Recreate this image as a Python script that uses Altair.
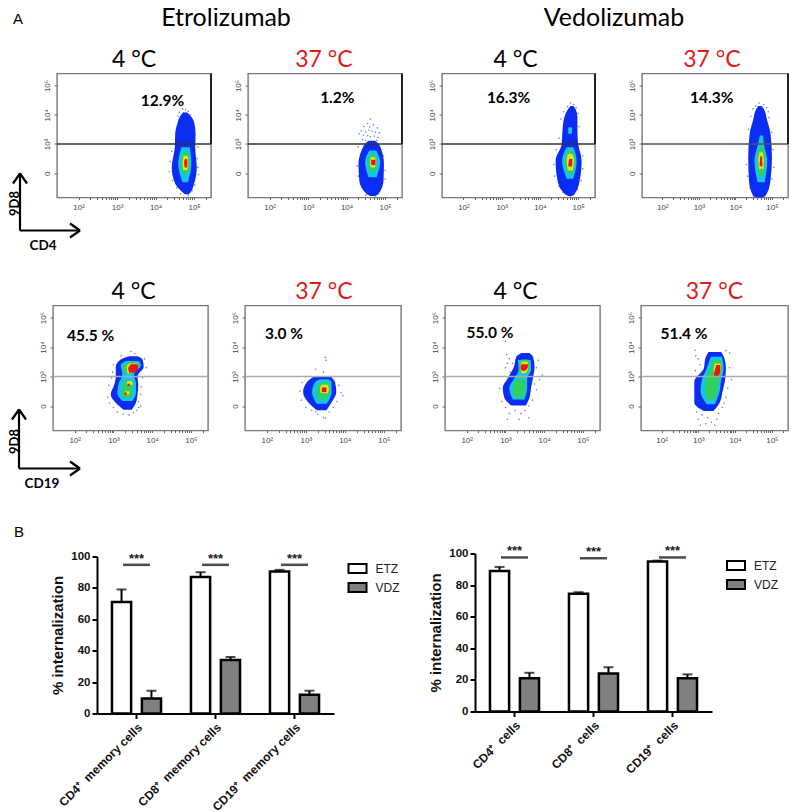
import altair as alt
import pandas as pd

BLUE, CYAN, GREEN, YELLOW, RED = "#0b2cf2", "#18c4e8", "#2fd15c", "#e4e61c", "#e8161a"
LEVELS = [BLUE, CYAN, GREEN, YELLOW, RED]
SERIF = "Liberation Sans"
CAL = "Lato"

# flow-cytometry density contours: level -> list of blobs -> rows of (y, x-left, x-right), in decades
T1 = {
 BLUE: [[(1.28,4.76,4.86),(1.35,4.70,4.91),(1.64,4.51,5.0),(2.2,4.42,5.07),(2.89,4.50,5.03),(3.35,4.51,5.04),(3.75,4.58,5.0),(3.97,4.65,4.90),(4.08,4.72,4.82)]],
 CYAN: [[(1.69,4.70,4.84),(2.32,4.59,4.93),(2.89,4.67,4.89)]],
 GREEN: [[(1.98,4.70,4.84),(2.34,4.65,4.89),(2.72,4.70,4.84)]],
 YELLOW: [[(2.11,4.72,4.83),(2.34,4.70,4.85),(2.6,4.73,4.83)]],
 RED: [[(2.2,4.76,4.82),(2.35,4.74,4.83),(2.49,4.76,4.82)]],
}
T2 = {
 BLUE: [[(1.22,4.62,4.74),(1.29,4.52,4.83),(1.75,4.33,4.96),(2.32,4.31,4.97),(2.78,4.39,4.91),(3.0,4.48,4.83),(3.11,4.57,4.74)]],
 CYAN: [[(1.86,4.57,4.78),(2.38,4.48,4.87),(2.78,4.59,4.77)]],
 GREEN: [[(2.03,4.61,4.74),(2.38,4.57,4.77),(2.66,4.61,4.74)]],
 YELLOW: [[(2.2,4.63,4.74),(2.38,4.61,4.76),(2.55,4.63,4.74)]],
 RED: [[(2.28,4.64,4.75),(2.46,4.64,4.75)]],
}
T3 = {
 BLUE: [[(1.22,4.74,4.84),(1.29,4.65,4.91),(1.75,4.46,5.04),(2.43,4.41,5.09),(3.0,4.57,5.0),(3.46,4.59,4.98),(3.92,4.64,4.98),(4.2,4.74,4.93),(4.3,4.8,4.88)]],
 CYAN: [[(1.81,4.70,4.87),(2.43,4.58,4.96),(2.89,4.70,4.87)],[(3.35,4.74,4.84),(3.57,4.74,4.84)]],
 GREEN: [[(1.98,4.72,4.87),(2.43,4.65,4.91),(2.78,4.73,4.85)]],
 YELLOW: [[(2.09,4.73,4.86),(2.43,4.70,4.89),(2.66,4.73,4.85)]],
 RED: [[(2.23,4.74,4.84),(2.49,4.76,4.85)]],
}
T4 = {
 BLUE: [[(1.17,4.58,4.74),(1.24,4.48,4.83),(1.75,4.37,4.96),(2.55,4.35,5.0),(3.35,4.39,4.96),(3.8,4.48,4.87),(4.2,4.57,4.78),(4.3,4.62,4.72)]],
 CYAN: [[(1.69,4.61,4.80),(2.43,4.52,4.87),(3.0,4.62,4.78),(3.29,4.67,4.76)]],
 GREEN: [[(1.92,4.63,4.78),(2.43,4.59,4.81),(2.89,4.64,4.76)]],
 YELLOW: [[(2.15,4.64,4.77),(2.43,4.63,4.78),(2.72,4.66,4.74)]],
 RED: [[(2.24,4.66,4.74),(2.58,4.68,4.73)]],
}
B1 = {
 BLUE: [[(1.87,3.26,3.47),(2.11,3.06,3.58),(2.39,2.93,3.62),(2.72,3.02,3.64),(3.0,3.06,3.62),(3.33,3.06,3.78),(3.58,3.19,3.75),(3.69,3.41,3.62)]],
 CYAN: [[(2.17,3.23,3.49),(2.44,3.10,3.58),(2.78,3.14,3.58),(3.06,3.23,3.53),(3.39,3.19,3.71),(3.53,3.32,3.66)]],
 GREEN: [[(2.28,3.23,3.45),(2.56,3.23,3.49),(2.83,3.26,3.52)],[(3.11,3.27,3.49),(3.33,3.23,3.64),(3.5,3.41,3.62)]],
 YELLOW: [[(2.39,3.27,3.40),(2.5,3.3,3.42)],[(2.72,3.33,3.5),(2.85,3.36,3.48)],[(3.11,3.36,3.47),(3.33,3.34,3.64),(3.44,3.41,3.62)]],
 RED: [[(3.13,3.41,3.55),(3.28,3.38,3.64),(3.42,3.45,3.62)],[(2.68,3.36,3.42),(2.76,3.36,3.42)],[(2.38,3.28,3.34),(2.46,3.28,3.34)]],
}
B2 = {
 BLUE: [[(1.86,3.28,3.53),(2.13,3.06,3.66),(2.47,2.93,3.78),(2.8,3.02,3.75),(3.02,3.23,3.62)]],
 CYAN: [[(2.08,3.28,3.53),(2.47,3.16,3.66),(2.8,3.23,3.66),(2.91,3.36,3.58)]],
 GREEN: [[(2.24,3.32,3.53),(2.54,3.28,3.62),(2.8,3.36,3.62)]],
 YELLOW: [[(2.43,3.39,3.56),(2.58,3.36,3.59),(2.72,3.41,3.56)]],
 RED: [[(2.47,3.41,3.53),(2.63,3.41,3.53)]],
}
B3 = {
 BLUE: [[(2.02,3.15,3.53),(2.28,2.97,3.62),(2.61,2.93,3.66),(2.94,3.06,3.71),(3.33,3.22,3.75),(3.67,3.28,3.71),(3.8,3.41,3.62)]],
 CYAN: [[(2.22,3.19,3.49),(2.61,3.10,3.56),(2.94,3.23,3.56),(3.22,3.34,3.66),(3.56,3.32,3.65)]],
 GREEN: [[(2.28,3.23,3.47),(2.61,3.19,3.51),(2.91,3.28,3.51)],[(3.11,3.36,3.59),(3.39,3.36,3.62),(3.58,3.42,3.59)]],
 YELLOW: [[(3.11,3.41,3.53),(3.33,3.39,3.59),(3.5,3.42,3.57)]],
 RED: [[(3.2,3.42,3.51),(3.33,3.39,3.58),(3.42,3.42,3.58)]],
}
B4 = {
 BLUE: [[(1.83,3.15,3.41),(2.11,2.89,3.58),(2.5,2.89,3.66),(2.83,2.89,3.72),(3.28,3.15,3.75),(3.61,3.19,3.71),(3.83,3.28,3.62)]],
 CYAN: [[(2.06,3.23,3.45),(2.5,3.06,3.58),(2.89,3.10,3.62),(3.28,3.23,3.69),(3.67,3.34,3.64)]],
 GREEN: [[(2.22,3.23,3.45),(2.61,3.19,3.53),(2.94,3.21,3.58),(3.28,3.32,3.64),(3.56,3.41,3.62)]],
 YELLOW: [[(3.17,3.41,3.6),(3.33,3.43,3.62),(3.44,3.45,3.6)]],
 RED: [[(3.02,3.43,3.55),(3.22,3.45,3.6),(3.39,3.49,3.6)]],
}

# sparse single events around each population: (x, y) in decades
S_T1 = [(4.70,4.2),(4.78,4.18),(4.85,4.12),(4.62,4.08),(4.72,4.06),(4.80,4.04),(4.90,4.0),(4.58,3.95),(4.60,3.82),(4.95,3.75),(4.38,3.0),(4.42,2.75),(5.1,2.9),(5.08,2.5),(4.38,2.4),(5.1,2.2),(4.36,2.05),(5.12,1.95),(4.44,1.75),(5.02,1.6),(4.55,1.5),(4.95,1.4),(4.65,1.3),(4.85,1.25)]
S_T2 = [(4.62,3.85),(4.55,3.7),(4.7,3.66),(4.45,3.6),(4.6,3.58),(4.8,3.55),(4.38,3.45),(4.5,3.42),(4.58,3.47),(4.66,3.44),(4.75,3.4),(4.85,3.38),(4.33,3.35),(4.44,3.3),(4.55,3.28),(4.62,3.25),(4.72,3.27),(4.82,3.22),(4.42,3.15),(4.5,3.12),(4.78,3.12),(4.3,2.9),(4.95,2.6),(4.28,2.25),(5.0,2.1),(4.3,1.9),(5.0,1.8),(4.5,1.25),(4.75,1.22)]
S_T3 = [(4.8,4.4),(4.88,4.35),(4.72,4.28),(4.82,4.27),(4.95,4.25),(4.62,4.1),(5.0,4.05),(4.55,3.85),(5.02,3.6),(4.5,3.2),(5.05,3.0),(4.42,2.8),(5.12,2.6),(4.36,2.3),(5.12,2.15),(4.38,1.9),(5.08,1.75),(4.5,1.55),(4.98,1.45),(4.6,1.35),(4.8,1.22),(4.88,1.3)]
S_T4 = [(4.65,4.4),(4.78,4.35),(4.55,4.3),(4.7,4.28),(4.85,4.25),(4.48,4.2),(4.62,4.18),(4.78,4.12),(4.9,4.1),(4.42,3.95),(4.92,3.9),(4.36,3.5),(5.0,3.4),(4.32,3.0),(5.03,2.8),(4.3,2.3),(5.05,2.2),(4.33,1.9),(5.0,1.8),(4.4,1.5),(4.9,1.45),(4.5,1.2),(4.78,1.18)]
S_B1 = [(3.45,3.85),(3.55,3.78),(3.2,3.7),(3.8,3.6),(3.0,3.4),(3.85,3.3),(2.98,3.15),(3.75,2.95),(2.95,2.95),(3.72,2.65),(2.88,2.7),(3.7,2.4),(2.85,2.3),(3.65,2.15),(2.9,2.1),(3.7,2.0),(3.0,1.95),(3.6,1.85),(3.1,1.8),(3.4,1.7),(3.52,1.78),(3.25,1.72),(3.65,1.95)]
S_B2 = [(3.5,3.65),(3.52,3.55),(3.25,3.25),(3.45,3.15),(2.98,3.0),(3.75,3.0),(2.9,2.8),(3.85,2.7),(2.85,2.5),(3.9,2.45),(3.95,2.35),(2.88,2.2),(3.8,2.15),(3.0,1.95),(3.7,1.95),(3.15,1.85),(3.6,1.8),(3.3,1.72),(3.45,1.62),(3.5,1.58),(3.25,1.8)]
S_B3 = [(3.0,4.2),(3.03,3.75),(3.1,3.6),(3.05,3.45),(3.0,3.3),(3.12,3.15),(3.18,3.45),(3.85,3.55),(3.8,3.3),(3.95,3.05),(3.88,2.9),(3.75,2.75),(3.8,2.55),(2.85,2.6),(2.9,2.15),(3.0,1.95),(3.7,2.2),(3.6,2.0),(3.1,1.75),(3.25,1.85),(3.4,1.75),(3.5,1.85),(3.6,1.6),(3.35,1.55),(3.05,1.55)]
S_B4 = [(2.91,3.89),(2.93,3.7),(3.0,3.6),(3.05,3.4),(2.92,3.2),(3.1,3.1),(2.95,3.0),(3.85,3.8),(3.75,3.88),(3.85,3.3),(3.9,2.9),(3.8,2.6),(3.75,2.3),(3.7,2.1),(3.65,1.95),(2.95,1.8),(3.0,1.55),(3.1,1.7),(3.25,1.6),(3.2,1.4),(3.05,1.35),(3.35,1.45),(3.5,1.55),(3.55,1.75),(3.45,1.35)]

X_DOM, Y_DOM = [1.44, 5.44], [1.17, 5.41]
X_TICKS = [2, 2.3, 2.48, 2.6, 2.7, 2.78, 2.85, 2.9, 2.95, 3, 3.3, 3.48, 3.6, 3.7, 3.78, 3.85, 3.9, 3.95, 4, 4.3, 4.48, 4.6, 4.7, 4.78, 4.85, 4.9, 4.95, 5, 5.3]
Y_TICKS = [2, 3, 4, 5]

XS = alt.Scale(domain=X_DOM, nice=False, zero=False)
YS = alt.Scale(domain=Y_DOM, nice=False, zero=False)
x_label = "datum.value==2?'10²':datum.value==3?'10³':datum.value==4?'10⁴':datum.value==5?'10⁵':''"
y_label = "datum.value==2?'0':datum.value==3?'10³':datum.value==4?'10⁴':'10⁵'"
X_AXIS = alt.Axis(values=X_TICKS, labelExpr=x_label, title=None, grid=False, domain=False, tickSize=2,
                  tickColor="#666", labelColor="#444", labelFont=SERIF, labelFontSize=8, labelPadding=4, labelOverlap=False)
Y_AXIS = alt.Axis(values=Y_TICKS, labelExpr=y_label, title=None, grid=False, domain=False, tickSize=3,
                  tickColor="#666", labelColor="#444", labelFont=SERIF, labelFontSize=8, labelPadding=3,
                  labelAngle=270, labelAlign="center", labelBaseline="bottom", labelOverlap=False)
ONE = pd.DataFrame({"a": [0]})


def spacer(w, h=1):
    return alt.Chart(ONE).mark_point(opacity=0).encode(x=alt.value(0), y=alt.value(0)).properties(width=w, height=h)


def seg(x1, y1, x2, y2):
    return alt.Chart(ONE).mark_rule(color="black", strokeWidth=2.2).encode(
        x=alt.value(x1), y=alt.value(y1), x2=alt.value(x2), y2=alt.value(y2))


def note(text, x, y, size, weight="normal", angle=0, font=CAL, align="center"):
    return alt.Chart(ONE).mark_text(text=text, font=font, fontSize=size, fontWeight=weight, angle=angle,
                                    color="black", align=align, baseline="middle").encode(x=alt.value(x), y=alt.value(y))


def panel(blobs, dots, pct, px, py, title, tcol, tdx, tdy, w, h, gate, gate_w, right_gate, extras=()):
    X = lambda f: alt.X(f, scale=XS, axis=X_AXIS)
    Y = lambda f: alt.Y(f, scale=YS, axis=Y_AXIS)
    layers = []
    d = pd.DataFrame(dots, columns=["x", "y"])
    layers.append(alt.Chart(d).mark_circle(size=2.5, color="#3f56ee", opacity=0.8).encode(x=X("x:Q"), y=Y("y:Q")))
    for lev in LEVELS:
        rows = [dict(b=i, y=r[0], xl=r[1], xr=r[2]) for i, blob in enumerate(blobs[lev]) for r in blob]
        layers.append(alt.Chart(pd.DataFrame(rows)).mark_area(orient="horizontal", color=lev, interpolate="monotone").encode(
            y=Y("y:Q"), x=X("xl:Q"), x2="xr:Q", detail="b:N"))
    layers.append(alt.Chart(pd.DataFrame({"x": X_DOM, "y": [3, 3]})).mark_line(color=gate, strokeWidth=gate_w).encode(
        x=X("x:Q"), y=Y("y:Q")))
    if right_gate:
        layers.append(alt.Chart(pd.DataFrame({"x": [X_DOM[1]] * 2, "y": [3, Y_DOM[1]]})).mark_line(
            color="#222", strokeWidth=2, orient="vertical").encode(x=X("x:Q"), y=Y("y:Q")))
    layers.append(alt.Chart(pd.DataFrame({"x": [px], "y": [py], "t": [pct]})).mark_text(
        font=CAL, fontSize=15.5, fontWeight="bold", color="black").encode(x=X("x:Q"), y=Y("y:Q"), text="t:N"))
    layers.extend(extras)
    return alt.layer(*layers).properties(
        width=w, height=h,
        view=alt.ViewConfig(stroke="#777", strokeWidth=1.4),
        title=alt.TitleParams(title, font=CAL, fontSize=23, fontWeight="normal", color=tcol, anchor="middle",
                              dx=tdx, dy=tdy, offset=2))


BLACK, REDT = "black", "#e01b1b"
arrows1 = [seg(-37, 157, -37, 100), seg(-37, 157, 23, 157), seg(-37, 100, -44, 110), seg(-37, 100, -30, 110),
           seg(23, 157, 13, 150), seg(23, 157, 13, 164),
           note("9D8", -42, 130, 13, "bold", 270), note("CD4", -14, 172, 13.5, "bold")]
arrows2 = [seg(-34, 163, -34, 104), seg(-34, 163, 27, 163), seg(-34, 104, -41, 114), seg(-34, 104, -27, 114),
           seg(27, 163, 17, 156), seg(27, 163, 17, 170),
           note("9D8", -38, 136, 13, "bold", 270), note("CD19", -11, 178, 13.5, "bold")]

# internalization bars
GROUPS = ["ETZ", "VDZ"]
CATS_L = ["CD4⁺\u00a0 memory cells", "CD8⁺\u00a0 memory cells", "CD19⁺\u00a0 memory cells"]
CATS_R = ["CD4⁺\u00a0 cells", "CD8⁺\u00a0 cells", "CD19⁺\u00a0 cells"]
ETZ_L, ETZ_L_UP = [71, 87, 90.5], [79, 90, 91.5]
VDZ_L, VDZ_L_UP = [9.5, 34, 12], [14.5, 36, 14.5]
ETZ_R, ETZ_R_UP = [89, 74.5, 95], [91.5, 75.5, 95.5]
VDZ_R, VDZ_R_UP = [21, 24, 21], [24.5, 28, 23.5]
SIG_L, SIG_R = [94.7, 94.7, 94.7], [97.5, 97, 97.5]


def bars(cats, e, eu, v, vu, sig, height, y_range, leg_x, leg_y, extras=()):
    df = pd.DataFrame({"cat": cats * 2, "group": ["ETZ"] * 3 + ["VDZ"] * 3, "val": e + v, "up": eu + vu})
    sg = pd.DataFrame({"cat": cats, "y": sig, "t": ["***"] * 3})
    xs = alt.Scale(domain=cats, paddingInner=0, paddingOuter=0)
    ys = alt.Scale(domain=[0, 100], nice=False, range=y_range)
    off = alt.XOffset("group:N", sort=GROUPS, scale=alt.Scale(domain=GROUPS, paddingInner=0.36, paddingOuter=0.5))
    xaxis = alt.Axis(title=None, labelAngle=315, labelAlign="right", labelBaseline="top", labelFont=SERIF, labelFontSize=12,
                     labelFontWeight="bold", labelColor="#111", labelLimit=200, tickSize=5, tickWidth=2, tickColor="black",
                     domainColor="black", domainWidth=2, labelPadding=3, grid=False)
    yaxis = alt.Axis(title="% internalization", titleFont=SERIF, titleFontSize=15, titleFontWeight="bold", titleColor="#111",
                     values=[0, 20, 40, 60, 80, 100], labelFont=SERIF, labelFontSize=11.5, labelFontWeight="bold", labelColor="#111",
                     tickSize=5, tickWidth=2, tickColor="black", domainColor="black", domainWidth=2, grid=False, titlePadding=5)
    X = alt.X("cat:N", sort=cats, scale=xs, axis=xaxis)
    err = alt.Chart(df).mark_rule(color="black", strokeWidth=2).encode(
        x=X, xOffset=off, y=alt.Y("val:Q", scale=ys, axis=yaxis), y2="up:Q")
    cap = alt.Chart(df).mark_tick(color="black", orient="horizontal", size=10, thickness=2).encode(
        x=X, xOffset=off, y=alt.Y("up:Q", scale=ys, axis=yaxis))
    bar = alt.Chart(df).mark_bar(stroke="black", strokeWidth=2.5).encode(
        x=X, xOffset=off,
        y=alt.Y("val:Q", scale=ys, axis=yaxis),
        fill=alt.Fill("group:N", sort=GROUPS, scale=alt.Scale(domain=GROUPS, range=["white", "#808080"]),
                      legend=alt.Legend(title=None, orient="none", legendX=leg_x, legendY=leg_y, symbolType="M-1,-0.5H1V0.5H-1Z",
                                        symbolSize=324, symbolStrokeColor="black", symbolStrokeWidth=2, labelFont=SERIF,
                                        labelFontSize=12, labelColor="#222", rowPadding=-4, labelOffset=8)))
    brk = alt.Chart(sg).mark_tick(color="black", orient="horizontal", size=27, thickness=2.5).encode(
        x=X, y=alt.Y("y:Q", scale=ys, axis=yaxis))
    star = alt.Chart(sg).mark_text(font=SERIF, fontSize=13, fontWeight="bold", color="#222", baseline="middle", dy=-6).encode(
        x=X, y=alt.Y("y:Q", scale=ys, axis=yaxis), text="t:N")
    return alt.layer(err, cap, bar, brk, star, *extras).properties(width=237, height=height)


header = alt.layer(
    note("Etrolizumab", 217, 10, 25), note("Vedolizumab", 605, 10, 25), note("A", 9, 11, 15, font=SERIF)
).properties(width=700, height=39.5)

row1 = alt.hconcat(
    spacer(48, 124), panel(T1, S_T1, "12.9%", 4.18, 4.46, "4 °C", BLACK, 0, 4, 154, 124, "#333", 1.4, True, arrows1),
    spacer(37, 124), panel(T2, S_T2, "1.2%", 3.76, 4.58, "37 °C", REDT, -1, 4, 154, 124, "#333", 1.4, True),
    spacer(40, 124), panel(T3, S_T3, "16.3%", 3.18, 4.58, "4 °C", BLACK, -3, 4, 153, 124, "#333", 1.4, True),
    spacer(47, 124), panel(T4, S_T4, "14.3%", 3.35, 4.58, "37 °C", REDT, -3, 4, 146, 124, "#555", 1.6, True),
    spacing=0, bounds="flush")
row2 = alt.hconcat(
    spacer(44, 125), panel(B1, S_B1, "45.5 %", 2.41, 4.39, "4 °C", BLACK, 3, 0, 155, 125, "#aaa", 1.4, False, arrows2),
    spacer(37, 125), panel(B2, S_B2, "3.0 %", 2.44, 4.44, "37 °C", REDT, 1, 0, 156, 125, "#aaa", 1.4, False),
    spacer(44, 125), panel(B3, S_B3, "55.0 %", 2.6, 4.48, "4 °C", BLACK, -7, 0, 155, 125, "#aaa", 1.4, False),
    spacer(41, 125), panel(B4, S_B4, "51.4 %", 2.61, 4.44, "37 °C", REDT, 0, 0, 147, 125, "#aaa", 1.4, False),
    spacing=0, bounds="flush")
row3 = alt.hconcat(
    spacer(87.5, 160),
    bars(CATS_L, ETZ_L, ETZ_L_UP, VDZ_L, VDZ_L_UP, SIG_L, 160, [160, 3], 250.5, 5, [note("B", -78, -22, 15, font=SERIF)]),
    spacer(140.5, 158),
    bars(CATS_R, ETZ_R, ETZ_R_UP, VDZ_R, VDZ_R_UP, SIG_R, 158, [158, 0], 251, 2),
    spacing=0, bounds="flush").resolve_legend(fill="independent").resolve_scale(fill="independent")

chart = alt.vconcat(header, row1, spacer(10, 23), row2, spacer(10, 30), row3, spacing=0).resolve_legend(
    fill="independent").properties(
    padding={"left": -2, "top": -2.5, "right": -3, "bottom": 0}, background="white"
).configure_view(stroke=None).configure_concat(spacing=0)

chart.save("out.html", embed_options={"renderer": "svg", "actions": False})
